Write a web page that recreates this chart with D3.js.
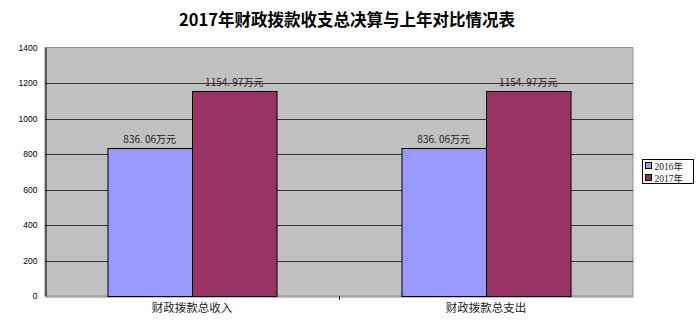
<!DOCTYPE html>
<html lang="zh">
<head>
<meta charset="UTF-8">
<title>2017年财政拨款收支总决算与上年对比情况表</title>
<script src="https://cdn.jsdelivr.net/npm/d3@7/dist/d3.min.js"></script>
<style>
    html, body { margin: 0; padding: 0; background: #fff; }
    svg { display: block; }
</style>
</head>
<body>
<div id="chart"></div>
<script>
    // 数据
    var categories = ["财政拨款总收入", "财政拨款总支出"];
    var seriesNames = ["2016年", "2017年"];
    var values2016 = [836.06, 836.06];
    var values2017 = [1154.97, 1154.97];
    var valueLabels2016 = ["836. 06万元", "836. 06万元"];
    var valueLabels2017 = ["1154. 97万元", "1154. 97万元"];
    var yTicks = [0, 200, 400, 600, 800, 1000, 1200, 1400];

    var W = 700, H = 323;
    var plot = {left: 45, right: 633, top: 47.5, bottom: 296};
    var colors = ["#9999FF", "#993366"];

    var svg = d3.select("#chart").append("svg")
        .attr("width", W).attr("height", H);

    // 标题
    svg.append("text")
        .attr("x", 347).attr("y", 26)
        .attr("text-anchor", "middle")
        .attr("font-family", "'Noto Sans CJK SC', sans-serif")
        .attr("font-weight", "bold")
        .attr("font-size", 16.5)
        .attr("fill", "#000")
        .text("2017年财政拨款收支总决算与上年对比情况表");

    var x = d3.scaleBand().domain(categories)
        .range([plot.left, plot.right]).paddingInner(0).paddingOuter(0);
    var y = d3.scaleLinear().domain([0, 1400]).range([plot.bottom, plot.top]);
    var barW = x.bandwidth() * 0.2875;

    // 绘图区背景
    svg.append("rect")
        .attr("x", plot.left).attr("y", plot.top)
        .attr("width", plot.right - plot.left)
        .attr("height", plot.bottom - plot.top)
        .attr("fill", "#C0C0C0")
        .attr("stroke", "#909090").attr("stroke-width", 1);

    // 网格线
    svg.append("g").selectAll("line")
        .data(yTicks.filter(function (d) { return d > 0 && d < 1400; }))
        .enter().append("line")
        .attr("x1", plot.left).attr("x2", plot.right)
        .attr("y1", function (d) { return Math.round(y(d)) + 0.5; })
        .attr("y2", function (d) { return Math.round(y(d)) + 0.5; })
        .attr("stroke", "#333").attr("stroke-width", 1);

    // y 轴
    var yAxis = svg.append("g")
        .attr("transform", "translate(" + (plot.left + 0.5) + ",0)")
        .call(d3.axisLeft(y).tickValues(yTicks).tickFormat(d3.format("d"))
            .tickSize(0).tickPadding(8));
    yAxis.select(".domain").attr("stroke", "#000");
    yAxis.selectAll("text")
        .attr("font-family", "Arial, 'Liberation Sans', sans-serif")
        .attr("font-size", 8.5).attr("fill", "#000");

    // x 轴
    var xAxis = svg.append("g")
        .attr("transform", "translate(0," + (plot.bottom + 0.5) + ")")
        .call(d3.axisBottom(x).tickSize(0).tickPadding(7));
    xAxis.select(".domain").attr("stroke", "#808080");
    xAxis.selectAll("text")
        .attr("font-family", "'Noto Sans CJK SC', sans-serif")
        .attr("font-size", 11.5).attr("fill", "#222");
    svg.append("line")
        .attr("x1", plot.left + x.bandwidth() + 0.5).attr("x2", plot.left + x.bandwidth() + 0.5)
        .attr("y1", plot.bottom).attr("y2", plot.bottom + 4)
        .attr("stroke", "#000");

    // 柱子
    var series = [values2016, values2017];
    var labels = [valueLabels2016, valueLabels2017];
    series.forEach(function (vals, si) {
        var g = svg.append("g");
        g.selectAll("rect").data(vals).enter().append("rect")
            .attr("x", function (d, i) {
                return x(categories[i]) + x.bandwidth() / 2 - barW + si * barW + 0.5;
            })
            .attr("y", function (d) { return Math.round(y(d)) + 0.5; })
            .attr("width", barW)
            .attr("height", function (d) { return plot.bottom - Math.round(y(d)); })
            .attr("fill", colors[si])
            .attr("stroke", "#000").attr("stroke-width", 1);
        g.selectAll("text").data(vals).enter().append("text")
            .attr("x", function (d, i) {
                return x(categories[i]) + x.bandwidth() / 2 - barW / 2 + si * barW;
            })
            .attr("y", function (d) { return y(d) - 5; })
            .attr("text-anchor", "middle")
            .attr("font-family", "'Noto Sans CJK SC', sans-serif")
            .attr("font-size", 10).attr("fill", "#222")
            .text(function (d, i) { return labels[si][i]; });
    });

    // 图例
    var lg = svg.append("g").attr("transform", "translate(642.5,159.5)");
    lg.append("rect").attr("width", 51).attr("height", 24)
        .attr("fill", "#fff").attr("stroke", "#000");
    seriesNames.forEach(function (name, i) {
        lg.append("rect")
            .attr("x", 3).attr("y", 3 + i * 12)
            .attr("width", 6).attr("height", 6)
            .attr("fill", colors[i]).attr("stroke", "#000");
        lg.append("text")
            .attr("x", 12).attr("y", 10 + i * 12)
            .attr("font-family", "'Liberation Serif', 'Noto Sans CJK SC', serif")
            .attr("font-size", 9.5).attr("fill", "#222")
            .text(name);
    });
</script>
</body>
</html>
